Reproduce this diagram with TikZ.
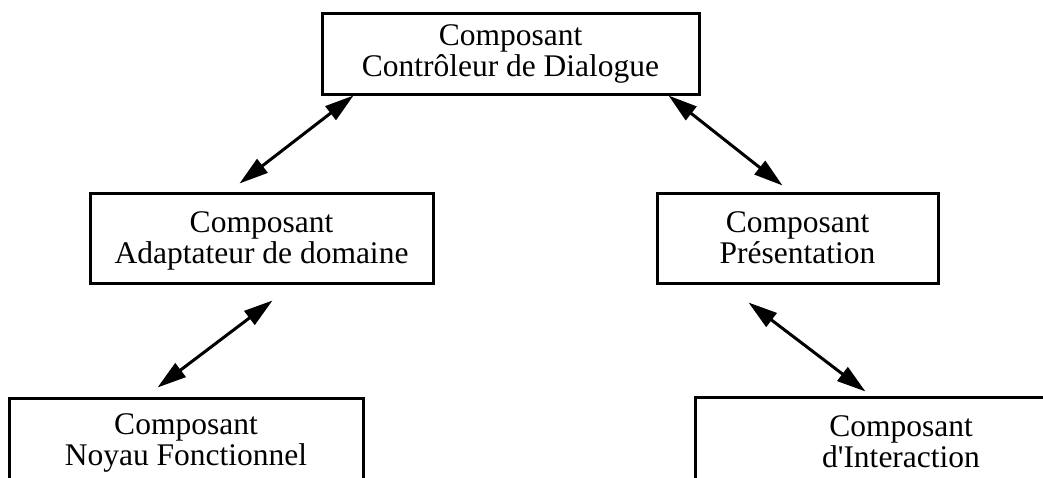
\documentclass[tikz,border=0pt]{standalone}
\usepackage{fontspec}
\setmainfont{Liberation Serif}[Ligatures=TeXOff]
\usetikzlibrary{arrows.meta}
\begin{document}
\begin{tikzpicture}[x=1pt,y=-1pt,
  box/.style={draw=black, line width=3pt, rectangle, align=center, inner sep=0pt,
    font=\fontsize{31.5}{31}\selectfont},
  lowtext/.style={text depth=0pt},
  link/.style={line width=3pt, {Triangle[length=29pt,width=17pt]}-{Triangle[length=29pt,width=17pt]}}]
\useasboundingbox (0,0) rectangle (1043,477);
\node[box, minimum width=377pt, minimum height=81pt] (ctrl) at (510.5,53.5) {Composant\\Contrôleur de Dialogue};
\node[box, lowtext, minimum width=343pt, minimum height=90pt] (adapt) at (261.5,238) {Composant\\Adaptateur de domaine};
\node[box, lowtext, minimum width=281pt, minimum height=90pt] (pres) at (797.5,238) {Composant\\Présentation};
\node[box, minimum width=354pt, minimum height=90pt] (noyau) at (186,443) {Composant\\Noyau Fonctionnel};
\node[box, lowtext, minimum width=412pt, minimum height=90pt] (inter) at (901,442) {Composant\\d'Interaction};
\draw[link] ([xshift=33pt]ctrl.south west) -- ([xshift=151pt,yshift=8pt]adapt.north west);
\draw[link] ([xshift=-32pt]ctrl.south east) -- ([xshift=127pt,yshift=6pt]pres.north west);
\draw[link] ([xshift=184pt,yshift=-16pt]adapt.south west) -- ([xshift=150pt,yshift=9pt]noyau.north west);
\draw[link] ([xshift=93pt,yshift=-18pt]pres.south west) -- ([xshift=172pt,yshift=4pt]inter.north west);
\end{tikzpicture}
\end{document}
